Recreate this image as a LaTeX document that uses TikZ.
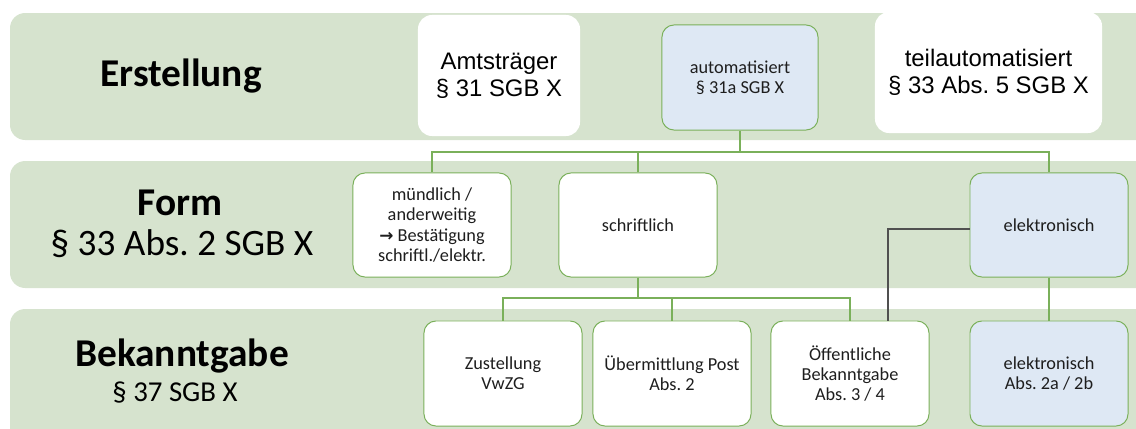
\documentclass[tikz,border=0pt]{standalone}
\usepackage{fontspec}
\setmainfont{Carlito}
\newfontfamily\arialfont{Liberation Sans}
\newfontfamily\arrowfont{DejaVu Sans}
\usepackage{tikz}
\usetikzlibrary{positioning,calc}
\definecolor{bandgreen}{RGB}{214,227,206}
\definecolor{boxgreen}{RGB}{122,176,90}
\definecolor{boxblue}{RGB}{222,232,244}
\definecolor{linegray}{RGB}{80,80,80}
\definecolor{txtgray}{RGB}{30,30,30}
\frenchspacing

\begin{document}
\begin{tikzpicture}[x=0.025cm,y=-0.025cm,
    bandtitle/.style={font=\bfseries\fontsize{28}{32}\selectfont,inner sep=0pt},
    bandref/.style={font=\fontsize{26.5}{30}\selectfont,inner sep=0pt},
    bandrefsmall/.style={font=\fontsize{20.5}{24}\selectfont,inner sep=0pt},
    stepbox/.style={draw=boxgreen,line width=0.7pt,fill=white,rounded corners=0.3cm,
      minimum width=3.95cm,minimum height=2.6cm,inner sep=0pt,align=center,
      text=txtgray,font=\fontsize{13}{14.5}\selectfont},
    bluebox/.style={stepbox,fill=boxblue},
    bigbox/.style={fill=white,rounded corners=0.35cm,inner sep=0pt,align=center,
      font=\arialfont\fontsize{17}{19.5}\selectfont},
    conn/.style={boxgreen,line width=0.8pt},
    darkconn/.style={linegray,line width=0.9pt}]
  \useasboundingbox (0,0) rectangle (1136,428);
  \clip (0,0) rectangle (1136,428);

  % bands
  \foreach \t/\b in {13/140,161/288,309/445}{
    \fill[bandgreen,rounded corners=0.38cm] (10,\t) rectangle (1170,\b);
  }
  \node[bandtitle] (erst) at (181,76) {Erstellung};
  \node[bandtitle] (form) at (180,203) {Form};
  \node[bandref] (formref) at (182,244) {§ 33 Abs. 2 SGB X};
  \node[bandtitle] (bek) at (182,356) {Bekanntgabe};
  \node[bandrefsmall] (bekref) at (175,393) {§ 37 SGB X};

  % Erstellung
  \node[bigbox,minimum width=4.05cm,minimum height=3.025cm] (amt) at (499,75.5) {Amtsträger\\§ 31 SGB X};
  \node[bluebox,minimum width=3.9cm,minimum height=2.625cm] (auto) at (740,77.5) {automatisiert\\§ 31a SGB X};
  \node[bigbox,minimum width=5.675cm,minimum height=3.025cm] (teil) at (988.5,72.5) {teilautomatisiert\\§ 33 Abs. 5 SGB X};

  % Form
  \node[stepbox] (muend) at (432,225) {mündlich /\\anderweitig\\{\arrowfont\bfseries\fontsize{12}{14.5}\selectfont →} Bestätigung\\schriftl./elektr.};
  \node[stepbox] (schrift) at (638,225) {schriftlich};
  \node[bluebox] (elek) at (1049,225) {elektronisch};

  % Bekanntgabe
  \node[stepbox,minimum height=2.625cm] (zust) at (503,373.5) {Zustellung\\VwZG};
  \node[stepbox,minimum height=2.625cm] (ueber) at (672,373.5) {Übermittlung Post\\Abs. 2};
  \node[stepbox,minimum height=2.625cm] (oeff) at (850,373.5) {Öffentliche\\Bekanntgabe\\Abs. 3 / 4};
  \node[bluebox,minimum height=2.625cm] (elekb) at (1049,373.5) {elektronisch\\Abs. 2a / 2b};

  % connectors
  \coordinate (busA) at (740,152);
  \coordinate (busB) at (638,298);
  \draw[conn] (auto.south) -- (busA);
  \draw[conn] (muend.north) |- (busA) -| (elek.north);
  \draw[conn] (schrift.north) -- (schrift.north |- busA);
  \draw[conn] (schrift.south) -- (busB);
  \draw[conn] (zust.north) |- (busB) -| (oeff.north);
  \draw[conn] (ueber.north) -- (ueber.north |- busB);
  \draw[conn] (elek.south) -- (elekb.north);
  \draw[darkconn] ([xshift=0.95cm]oeff.north) |- ([yshift=-0.1cm]elek.west);
\end{tikzpicture}
\end{document}
